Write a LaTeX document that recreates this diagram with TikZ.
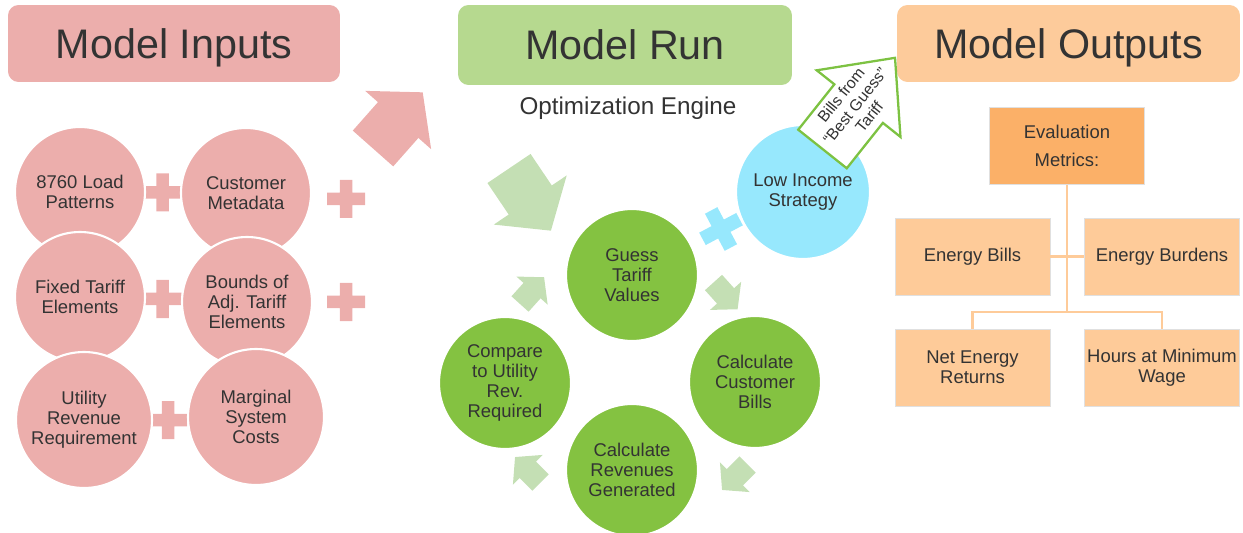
\documentclass[tikz,border=0pt]{standalone}
\usepackage{fontspec}
\setmainfont{Liberation Sans}
\usepackage{xcolor}
\definecolor{inpink}{RGB}{236,174,172}
\definecolor{runbanner}{RGB}{182,217,143}
\definecolor{outpeach}{RGB}{253,203,155}
\definecolor{stepgreen}{RGB}{132,194,65}
\definecolor{paleleaf}{RGB}{196,223,180}
\definecolor{skyblue}{RGB}{151,232,253}
\definecolor{metricorange}{RGB}{251,176,104}
\definecolor{metricpeach}{RGB}{254,203,153}
\definecolor{outlinegreen}{RGB}{125,194,66}
\definecolor{inktext}{RGB}{51,51,51}
% block arrow: style, origin, angle, half shaft, shaft length, half head, head length
\newcommand{\blkarrow}[7]{%
  \path[#1,shift={#2},rotate=#3] (0,-#4) -- (#5,-#4) -- (#5,-#6) -- ({#5+#7},0)
    -- (#5,#6) -- (#5,#4) -- (0,#4) -- cycle;}
% plus sign: colour, centre, angle, size, bar width
\newcommand{\plusmark}[5]{%
  \fill[#1,shift={#2},rotate=#3] (-#4/2,-#5/2) rectangle (#4/2,#5/2)
    (-#5/2,-#4/2) rectangle (#5/2,#4/2);}

\begin{document}
\begin{tikzpicture}[x=0.02cm,y=-0.02cm,
  banner/.style={rectangle,rounded corners=6pt,inner sep=0pt,text=inktext,
    font=\fontsize{23.5}{28}\selectfont,text height=16.9pt,text depth=0pt},
  inputball/.style={circle,fill=inpink,draw=white,line width=1.2pt,inner sep=0pt,
    minimum size=2.6cm,align=center,text=inktext,font=\fontsize{10.5}{11.5}\selectfont},
  stepball/.style={inputball,fill=stepgreen,minimum size=2.64cm},
  metricbox/.style={rectangle,fill=metricpeach,draw=black!12,line width=0.4pt,
    minimum width=3.1cm,minimum height=1.54cm,inner sep=0pt,align=center,
    text=inktext,font=\fontsize{10.5}{11.5}\selectfont},
  treeline/.style={draw=metricpeach,line width=1.5pt}]
  \useasboundingbox (0,0) rectangle (1243,533);

  \node[banner,fill=inpink,minimum width=6.64cm,minimum height=1.54cm] (inputs) at (174,43.5) {Model Inputs};
  \node[banner,fill=runbanner,minimum width=6.68cm,minimum height=1.6cm] (run) at (625,45) {Model Run};
  \node[banner,fill=outpeach,minimum width=6.86cm,minimum height=1.54cm] (outputs) at (1068.5,43.5) {Model Outputs};
  \node[text=inktext,font=\fontsize{13.8}{16}\selectfont] (engine) at (628,108) {Optimization Engine};

  \foreach \px/\py in {162.5/192.5, 346/199, 162.5/299, 346/302, 168/420}{
    \plusmark{inpink}{(\px,\py)}{0}{38}{12.5}
  }
  \node[inputball] (loads) at (80,192) {8760 Load\\Patterns};
  \node[inputball] (meta) at (246,193) {Customer\\Metadata};
  \node[inputball] (fixed) at (80,297) {Fixed Tariff\\Elements};
  \node[inputball] (bounds) at (247,302) {Bounds of\\Adj. Tariff\\Elements};
  \node[inputball,minimum size=2.72cm] (revreq) at (84,420) {Utility\\Revenue\\Requirement};
  \node[inputball,minimum size=2.72cm] (marginal) at (256,417) {Marginal\\System\\Costs};

  \blkarrow{fill=inpink}{(373,148.5)}{48.5}{27}{38}{44}{37}
  \blkarrow{fill=paleleaf}{(509,168.5)}{-56}{26}{38}{44}{37}
  \foreach \ax/\ay/\ang in {713.5/282.5/-48, 747.5/464.5/-135, 540.5/482.5/135, 520/304/48}{
    \blkarrow{fill=paleleaf}{(\ax,\ay)}{\ang}{11.5}{18}{21}{18}
  }

  \node[stepball] (guess) at (632,275) {Guess\\Tariff\\Values};
  \node[stepball] (custbills) at (755,382) {Calculate\\Customer\\Bills};
  \node[stepball] (revenue) at (632,470) {Calculate\\Revenues\\Generated};
  \node[stepball] (compare) at (505,383) {Compare\\to Utility\\Rev.\\Required};

  \plusmark{skyblue}{(721,229)}{28}{42}{14}
  \node[inputball,fill=skyblue,minimum size=2.68cm] (lowincome) at (803,192) {Low Income\\Strategy};
  \blkarrow{fill=white,draw=outlinegreen,line width=1.3pt,line join=miter}{(822.5,149)}{51.5}{31}{58}{53.5}{58.5}
  \node[text=inktext,rotate=51.5,align=center,font=\fontsize{9}{10.2}\selectfont] (bestguess) at (855,106)
    {Bills from\\``Best Guess''\\Tariff};

  \node[metricbox,fill=metricorange,font=\fontsize{10.5}{16}\selectfont] (metrics) at (1067,146) {Evaluation\\Metrics:};
  \node[metricbox] (energybills) at (972.5,256.5) {Energy Bills};
  \node[metricbox] (burdens) at (1162,256.5) {Energy Burdens};
  \node[metricbox] (netreturns) at (972.5,367.5) {Net Energy\\Returns};
  \node[metricbox] (minwage) at (1162,367.5) {Hours at Minimum\\Wage};
  \coordinate (fork) at (1067,312);
  \draw[treeline] (metrics.south) -- (fork);
  \draw[treeline] (netreturns.north) |- (fork) -| (minwage.north);
  \draw[treeline] (energybills.east) -- (burdens.west);
\end{tikzpicture}
\end{document}
